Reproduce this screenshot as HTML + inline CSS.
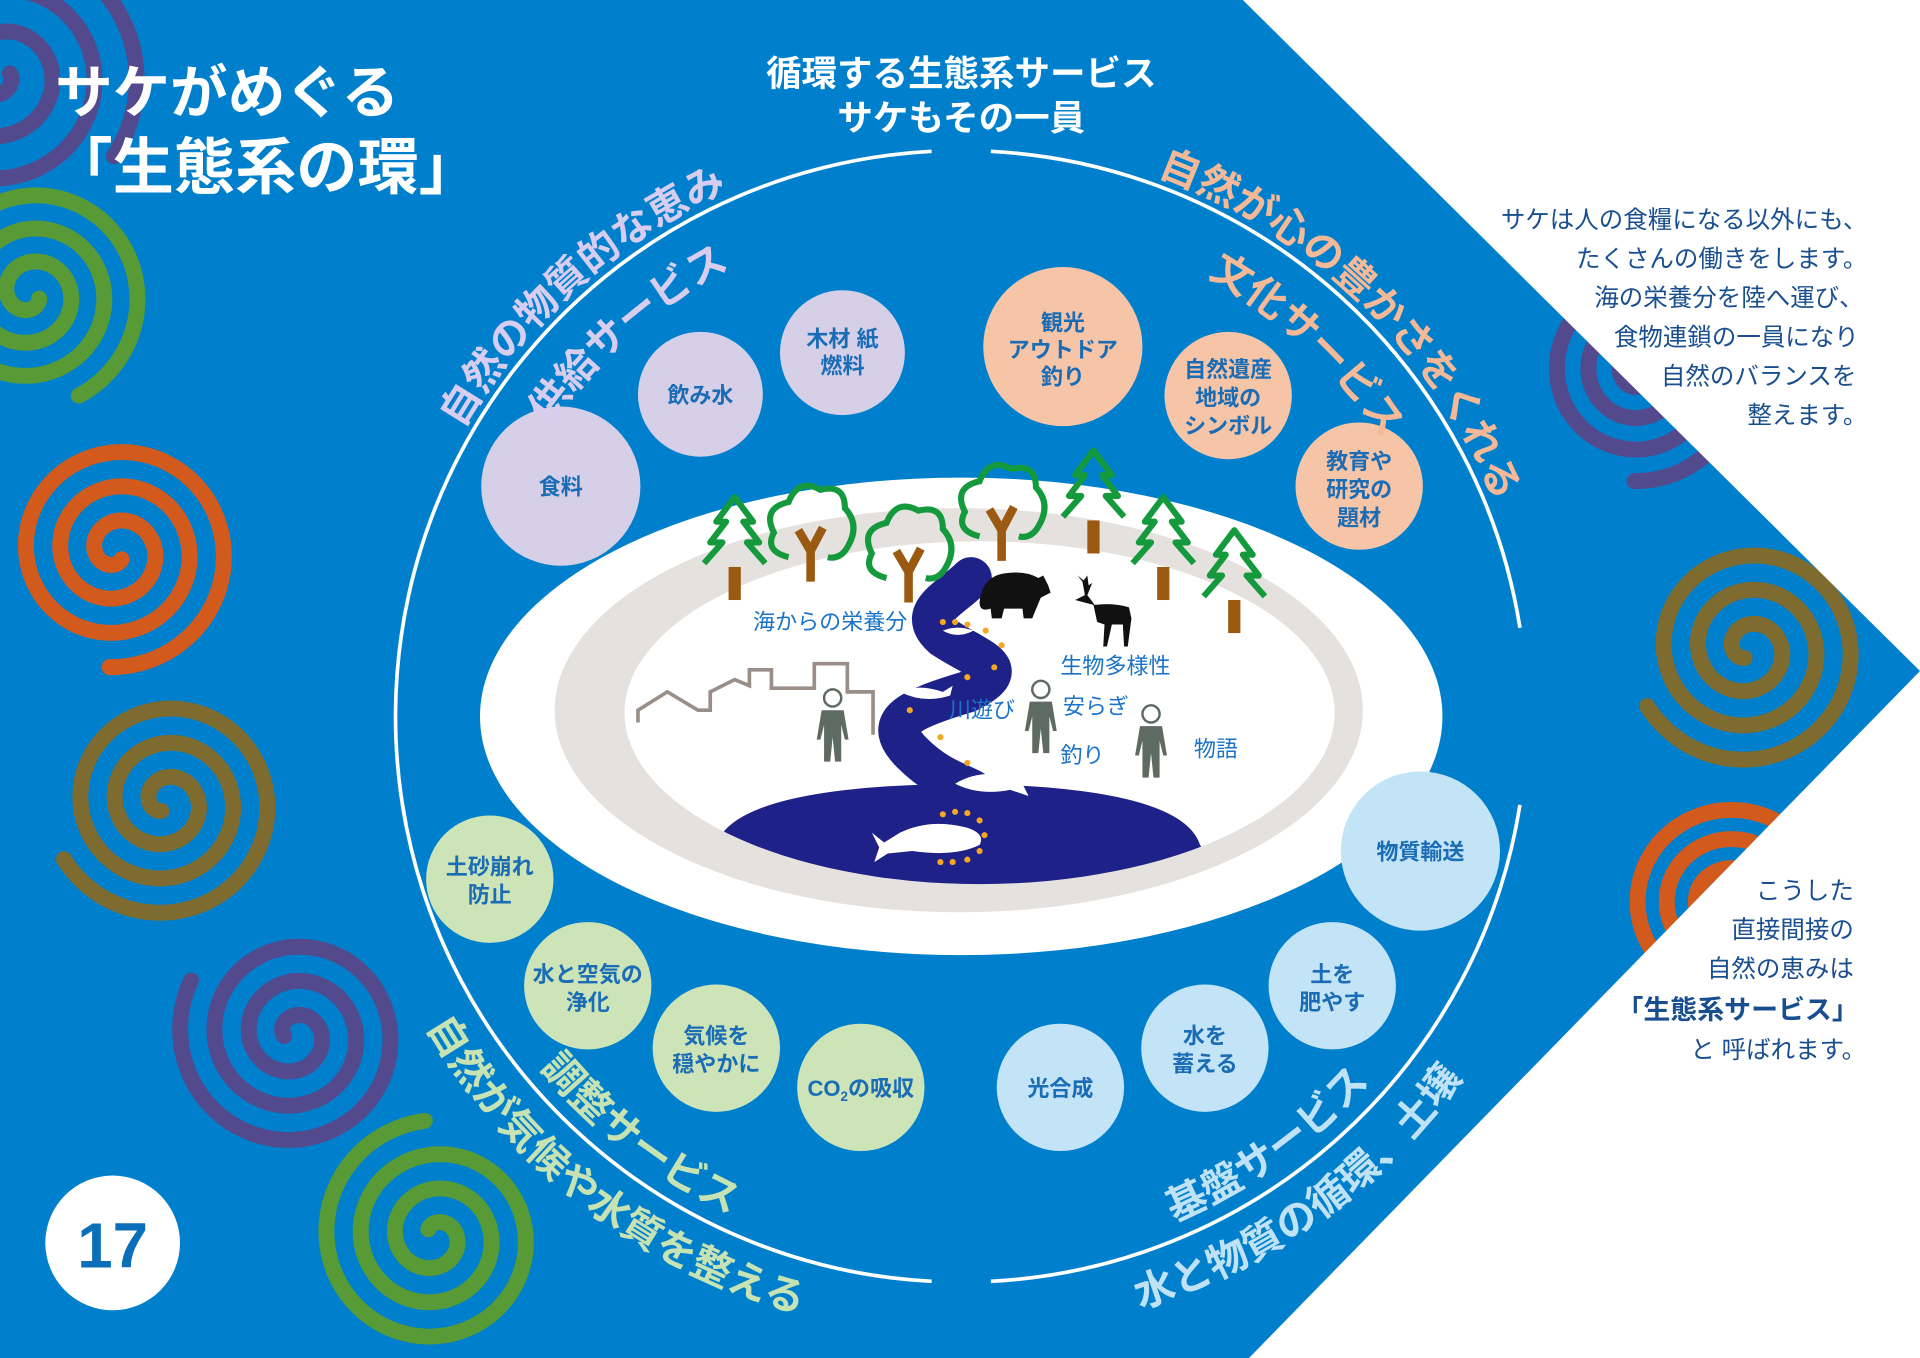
<!DOCTYPE html>
<html><head><meta charset="utf-8"><style>
html,body{margin:0;padding:0;background:#fff;}
svg{display:block;}
text{font-family:"Liberation Sans","Noto Sans CJK JP",sans-serif;}
</style></head><body>
<svg id="s" width="1920" height="1358" viewBox="0 0 1568 1109" preserveAspectRatio="none" xmlns="http://www.w3.org/2000/svg">
<defs>
<clipPath id="inner"><ellipse cx="800" cy="582" rx="290" ry="140"/></clipPath>
<path id="tlO" d=""/><path id="tlI" d=""/><path id="trO" d=""/><path id="trI" d=""/>
<path id="blO" d=""/><path id="blI" d=""/><path id="brO" d=""/><path id="brI" d=""/>
</defs>
<rect width="1568" height="1109" fill="#0080cc"/>
<g id="spirals"></g>
<polygon points="1015,0 1568,0 1568,548" fill="#fff"/>
<polygon points="1568,548 1568,1109 1020,1109" fill="#fff"/>

<g fill="none" stroke="#fff" stroke-width="3" id="arcs"></g>

<ellipse cx="785" cy="585" rx="393" ry="195" fill="#fff"/>
<ellipse cx="783" cy="580" rx="330" ry="165" fill="#e5e1df"/>
<ellipse cx="800" cy="582" rx="290" ry="140" fill="#fff"/>
<g clip-path="url(#inner)">
<path d="M560,730 L585,690 Q600,642 785,640 Q965,642 980,690 L1010,730 Z" fill="#1e2187"/>
</g>
<path d="M793,472 C775,490 748,500 770,520 C800,540 830,545 790,565 C740,580 720,590 745,615 C770,640 790,640 800,650" fill="none" stroke="#1e2187" stroke-width="34" stroke-linecap="round"/>
<path d="M793,470 C785,480 770,490 780,500" fill="none" stroke="#1e2187" stroke-width="14"/>
<g fill="#fff">
<path d="M712,680 L722,688 L735,680 Q760,668 790,676 Q805,681 800,690 Q780,700 745,695 L725,697 L714,704 L718,692 Z"/>
<path d="M780,640 Q800,628 825,634 L840,628 L835,640 L840,650 L825,645 Q800,650 780,640 Z"/>
<path d="M735,565 Q750,558 770,565 L778,560 L776,568 Q755,575 735,565 Z"/>
<path d="M770,515 Q782,510 795,515 Q782,522 770,515 Z"/>
</g>
<g fill="#f5a623">
<circle cx="770" cy="665" r="2.5"/><circle cx="780" cy="663" r="2.5"/><circle cx="790" cy="664" r="2.5"/><circle cx="800" cy="670" r="2.5"/><circle cx="804" cy="682" r="2.5"/><circle cx="800" cy="695" r="2.5"/><circle cx="790" cy="702" r="2.5"/><circle cx="778" cy="704" r="2.5"/><circle cx="768" cy="704" r="2.5"/>
<circle cx="790" cy="623" r="2.5"/><circle cx="768" cy="602" r="2.5"/><circle cx="743" cy="580" r="2.5"/><circle cx="790" cy="553" r="2.5"/><circle cx="812" cy="545" r="2.5"/><circle cx="818" cy="527" r="2.5"/><circle cx="805" cy="515" r="2.5"/><circle cx="770" cy="508" r="2.5"/><circle cx="780" cy="508" r="2.5"/><circle cx="790" cy="510" r="2.5"/>
</g>
<polyline points="521,590 521,580 545,565 570,580 580,580 580,565 600,555 612,560 612,547 630,547 630,562 665,562 665,542 692,542 692,565 713,565 713,600" fill="none" stroke="#9a8e88" stroke-width="3"/>
<g id="trees"></g>
<path d="M800,492 Q802,470 822,468 Q838,466 848,472 L852,470 L856,478 L858,484 L850,488 L845,500 L843,505 L836,505 L835,497 L820,497 L818,505 L810,505 L809,497 Q800,500 800,492 Z" fill="#111"/>
<path d="M878,490 L886,486 L884,475 L880,470 L885,474 L888,470 L889,478 L892,476 L888,486 L894,494 Q910,492 922,496 L924,505 L921,528 L918,528 L917,510 L908,510 L904,528 L901,528 L902,510 L896,508 L893,494 Z" fill="#111"/>
<g id="people"></g>
<g fill="#1a73c8" font-size="18">
<text x="615" y="514">海からの栄養分</text>
<text x="866" y="550">生物多様性</text>
<text x="775" y="586">川遊び</text>
<text x="868" y="583">安らぎ</text>
<text x="866" y="623">釣り</text>
<text x="975" y="618">物語</text>
</g>

<g font-weight="bold" font-size="18" fill="#1a6cb5" text-anchor="middle">
<circle cx="458" cy="397" r="65" fill="#d6cfe8"/><text x="458" y="404">食料</text>
<circle cx="572" cy="322" r="51" fill="#d6cfe8"/><text x="572" y="329">飲み水</text>
<circle cx="688" cy="288" r="51" fill="#d6cfe8"/><text x="688" y="283">木材 紙</text><text x="688" y="305">燃料</text>
<circle cx="868" cy="283" r="65" fill="#f6c5a8"/><text x="868" y="270">観光</text><text x="868" y="292">アウトドア</text><text x="868" y="314">釣り</text>
<circle cx="1003" cy="323" r="52" fill="#f6c5a8"/><text x="1003" y="308">自然遺産</text><text x="1003" y="331">地域の</text><text x="1003" y="354">シンボル</text>
<circle cx="1110" cy="397" r="52" fill="#f6c5a8"/><text x="1110" y="383">教育や</text><text x="1110" y="406">研究の</text><text x="1110" y="429">題材</text>
<circle cx="400" cy="718" r="52" fill="#cde4b8"/><text x="400" y="714">土砂崩れ</text><text x="400" y="737">防止</text>
<circle cx="480" cy="805" r="52" fill="#cde4b8"/><text x="480" y="802">水と空気の</text><text x="480" y="825">浄化</text>
<circle cx="585" cy="856" r="52" fill="#cde4b8"/><text x="585" y="852">気候を</text><text x="585" y="875">穏やかに</text>
<circle cx="703" cy="888" r="52" fill="#cde4b8"/><text x="703" y="895">CO<tspan font-size="11" dy="4">2</tspan><tspan dy="-4">の吸収</tspan></text>
<circle cx="866" cy="888" r="52" fill="#c3e3f7"/><text x="866" y="895">光合成</text>
<circle cx="984" cy="856" r="52" fill="#c3e3f7"/><text x="984" y="852">水を</text><text x="984" y="875">蓄える</text>
<circle cx="1088" cy="805" r="52" fill="#c3e3f7"/><text x="1088" y="802">土を</text><text x="1088" y="825">肥やす</text>
<circle cx="1160" cy="695" r="65" fill="#c3e3f7"/><text x="1160" y="702">物質輸送</text>
</g>

<g font-weight="bold" text-anchor="middle">
<text font-size="33" fill="#d8cdef"><textPath href="#tlO" startOffset="50%">自然の物質的な恵み</textPath></text>
<text font-size="33" fill="#d8cdef"><textPath href="#tlI" startOffset="50%">供給サービス</textPath></text>
<text font-size="33" fill="#f6b997"><textPath href="#trO" startOffset="50%">自然が心の豊かさをくれる</textPath></text>
<text font-size="33" fill="#f6b997"><textPath href="#trI" startOffset="50%">文化サービス</textPath></text>
<text font-size="33" fill="#c7e3b3"><textPath href="#blO" startOffset="50%">自然が気候や水質を整える</textPath></text>
<text font-size="33" fill="#c7e3b3"><textPath href="#blI" startOffset="50%">調整サービス</textPath></text>
<text font-size="33" fill="#bfe2f6"><textPath href="#brO" startOffset="50%">水と物質の循環、土壌</textPath></text>
<text font-size="33" fill="#bfe2f6"><textPath href="#brI" startOffset="50%">基盤サービス</textPath></text>
</g>

<g fill="#fff" font-weight="bold">
<text x="45" y="92" font-size="47">サケがめぐる</text>
<text x="42" y="154" font-size="50">「生態系の環」</text>
<text x="785" y="70" font-size="29" text-anchor="middle">循環する生態系サービス</text>
<text x="785" y="106" font-size="29" text-anchor="middle">サケもその一員</text>
</g>
<g fill="#1a4f8f" font-size="20" text-anchor="end">
<text x="1525" y="186">サケは人の食糧になる以外にも、</text>
<text x="1525" y="218">たくさんの働きをします。</text>
<text x="1522" y="250">海の栄養分を陸へ運び、</text>
<text x="1518" y="282">食物連鎖の一員になり</text>
<text x="1516" y="314">自然のバランスを</text>
<text x="1525" y="346">整えます。</text>
<text x="1514" y="734">こうした</text>
<text x="1514" y="766">直接間接の</text>
<text x="1514" y="798">自然の恵みは</text>
<text x="1518" y="832" font-weight="bold" font-size="22">「生態系サービス」</text>
<text x="1524" y="864">と 呼ばれます。</text>
</g>
<circle cx="92" cy="1015" r="55" fill="#fff"/>
<text x="92" y="1035" font-size="52" font-weight="bold" fill="#0a6fb8" text-anchor="middle">17</text>
</svg>
<script>
var NS="http://www.w3.org/2000/svg";
var CX=785,CY=585;
function pt(r,a){a=a*Math.PI/180;return [CX+r*Math.cos(a),CY+r*Math.sin(a)];}
function arc(r,a1,a2){var p=pt(r,a1),q=pt(r,a2);var sw=a2>a1?1:0;var lg=Math.abs(a2-a1)>180?1:0;
return "M"+p[0].toFixed(1)+","+p[1].toFixed(1)+" A"+r+","+r+" 0 "+lg+" "+sw+" "+q[0].toFixed(1)+","+q[1].toFixed(1);}
function setp(id,d){document.getElementById(id).setAttribute("d",d);}
setp("tlO",arc(470,-191,-73));setp("tlI",arc(412,-190,-72));
setp("trO",arc(470,-106,14));setp("trI",arc(412,-103,9));
setp("blO",arc(505,190,65));setp("blI",arc(448,185,70));
setp("brO",arc(505,117,-8));setp("brI",arc(448,113,-4));
var R=462,arcs=document.getElementById("arcs");
[[-191,-93],[-87,-9],[9,87],[93,171]].forEach(function(a){var p=document.createElementNS(NS,"path");p.setAttribute("d",arc(R,a[0],a[1]));arcs.appendChild(p);});
var sp=[[0,60,115,"#524a8c",0],[25,240,92,"#579a36",0.5],[95,450,95,"#d15a1c",1],[135,655,95,"#7d6b30",2],[240,845,95,"#524a8c",3],[355,1010,95,"#579a36",4],[1340,305,88,"#524a8c",1],[1428,530,95,"#7d6b30",2],[1410,740,82,"#d15a1c",5]];
var g=document.getElementById("spirals");
sp.forEach(function(s){var turns=3.1,d="",N=300,a0=s[4];
for(var i=0;i<=N;i++){var t=i/N;var r=8+(s[2]-8)*t;var a=a0+turns*2*Math.PI*t;
d+=(i?"L":"M")+(s[0]+r*Math.cos(a)).toFixed(1)+","+(s[1]+r*Math.sin(a)).toFixed(1);}
var p=document.createElementNS(NS,"path");p.setAttribute("d",d);p.setAttribute("fill","none");p.setAttribute("stroke",s[3]);p.setAttribute("stroke-width","13");p.setAttribute("stroke-linecap","round");g.appendChild(p);});
var tg=document.getElementById("trees"),h="";
[[600,478],[893,440],[950,478],[1008,505]].forEach(function(t){var x=t[0],y=t[1];
h+='<rect x="'+(x-5)+'" y="'+(y-15)+'" width="10" height="27" fill="#9a5a12"/>';
h+='<polyline points="'+(x-25)+','+(y-18)+' '+(x-10)+','+(y-35)+' '+(x-20)+','+(y-35)+' '+(x-7)+','+(y-52)+' '+(x-15)+','+(y-52)+' '+x+','+(y-72)+' '+(x+15)+','+(y-52)+' '+(x+7)+','+(y-52)+' '+(x+20)+','+(y-35)+' '+(x+10)+','+(y-35)+' '+(x+25)+','+(y-18)+'" fill="none" stroke="#149a3c" stroke-width="5" stroke-linejoin="round"/>';});
[[662,445],[742,462],[818,428]].forEach(function(t){var x=t[0],y=t[1];
h+='<path d="M'+(x-18)+','+(y+10)+' Q'+(x-38)+','+(y+5)+' '+(x-30)+','+(y-10)+' Q'+(x-40)+','+(y-30)+' '+(x-18)+','+(y-35)+' Q'+(x-10)+','+(y-55)+' '+(x+8)+','+(y-45)+' Q'+(x+28)+','+(y-50)+' '+(x+28)+','+(y-30)+' Q'+(x+42)+','+(y-15)+' '+(x+28)+','+(y+5)+' Q'+(x+22)+','+(y+12)+' '+(x+14)+','+(y+10)+'" fill="none" stroke="#149a3c" stroke-width="5"/>';
h+='<path d="M'+x+','+(y+30)+' L'+x+','+(y+5)+' L'+(x-10)+','+(y-12)+' M'+x+','+(y+5)+' L'+(x+10)+','+(y-14)+'" fill="none" stroke="#9a5a12" stroke-width="7"/>';});
tg.innerHTML=h;
var pg=document.getElementById("people");h="";
[[680,572],[850,565],[940,585]].forEach(function(t){var x=t[0],y=t[1];
h+='<circle cx="'+x+'" cy="'+(y-2)+'" r="7" fill="#fff" stroke="#5f6a62" stroke-width="2"/>';
h+='<path d="M'+(x-9)+','+(y+8)+' L'+(x+9)+','+(y+8)+' L'+(x+13)+','+(y+32)+' L'+(x+10)+','+(y+32)+' L'+(x+7)+','+(y+20)+' L'+(x+7)+','+(y+50)+' L'+(x+2)+','+(y+50)+' L'+x+','+(y+30)+' L'+(x-2)+','+(y+50)+' L'+(x-7)+','+(y+50)+' L'+(x-7)+','+(y+20)+' L'+(x-10)+','+(y+32)+' L'+(x-13)+','+(y+32)+' Z" fill="#5f6a62"/>';});
pg.innerHTML=h;
</script>
</body></html>
